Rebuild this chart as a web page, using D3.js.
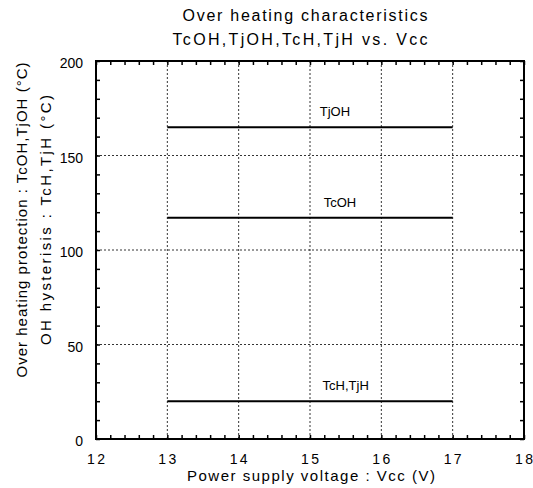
<!DOCTYPE html>
<html>
<head>
<meta charset="utf-8">
<script src="https://cdn.jsdelivr.net/npm/d3@7"></script>
<style>
  body { margin: 0; background: #fff; }
  text { font-family: "Liberation Sans", Arial, sans-serif; fill: #000; }
</style>
</head>
<body>
<div id="chart"></div>
<script>
// data
let xTicks = [12, 13, 14, 15, 16, 17, 18];
let yTicks = [0, 50, 100, 150, 200];
let seriesNames = ["TjOH", "TcOH", "TcH,TjH"];
let seriesX = [13, 17];
let seriesY = [165, 117, 20];
let labelX = [15.35, 15.42, 15.5];

let width = 533, height = 488;
let margin = { left: 96, right: 9, top: 61, bottom: 49 };

let svg = d3.select("#chart").append("svg")
     .attr("width", width)
     .attr("height", height);

let x = d3.scaleLinear().domain([12, 18]).range([margin.left, width - margin.right]);
let y = d3.scaleLinear().domain([0, 200]).range([height - margin.bottom, margin.top]);

// grid, dotted
let grid = svg.append("g").attr("stroke", "#000").attr("stroke-width", 0.8).attr("stroke-dasharray", "2,2");
xTicks.slice(1, -1).forEach(t => {
     grid.append("line").attr("x1", x(t)).attr("x2", x(t)).attr("y1", y(0)).attr("y2", y(200));
});
yTicks.slice(1, -1).forEach(t => {
     grid.append("line").attr("x1", x(12)).attr("x2", x(18)).attr("y1", y(t)).attr("y2", y(t));
});

// inward ticks on all four sides
let minorX = d3.range(12, 18.001, 0.2);
let minorY = d3.range(0, 200.001, 10);
svg.append("g").attr("transform", `translate(0,${y(0)})`)
     .call(d3.axisTop(x).tickValues(minorX).tickSize(4).tickFormat(""));
svg.append("g").attr("transform", `translate(0,${y(200)})`)
     .call(d3.axisBottom(x).tickValues(minorX).tickSize(4).tickFormat(""));
svg.append("g").attr("transform", `translate(${x(12)},0)`)
     .call(d3.axisRight(y).tickValues(minorY).tickSize(4).tickFormat(""));
svg.append("g").attr("transform", `translate(${x(18)},0)`)
     .call(d3.axisLeft(y).tickValues(minorY).tickSize(4).tickFormat(""));
svg.selectAll(".domain").remove();
svg.selectAll(".tick line").attr("stroke", "#000").attr("stroke-width", 1.5);

// frame
svg.append("rect")
     .attr("x", x(12)).attr("y", y(200))
     .attr("width", x(18) - x(12)).attr("height", y(0) - y(200))
     .attr("fill", "none").attr("stroke", "#000").attr("stroke-width", 2);

// tick labels
svg.append("g").selectAll("text").data(xTicks).enter().append("text")
     .attr("x", d => x(d)).attr("y", y(0) + 25)
     .attr("text-anchor", "middle").attr("font-size", 14)
     .attr("textLength", 18).attr("lengthAdjust", "spacing")
     .text(d => d);
svg.append("g").selectAll("text").data(yTicks).enter().append("text")
     .attr("x", x(12) - 13).attr("y", d => y(d) + 7)
     .attr("text-anchor", "end").attr("font-size", 14)
     .text(d => d);

// series lines + labels
seriesNames.forEach((name, i) => {
     svg.append("line")
          .attr("x1", x(seriesX[0])).attr("x2", x(seriesX[1]))
          .attr("y1", y(seriesY[i])).attr("y2", y(seriesY[i]))
          .attr("stroke", "#000").attr("stroke-width", 2);
     svg.append("text")
          .attr("x", x(labelX[i])).attr("y", y(seriesY[i]) - 11)
          .attr("text-anchor", "middle").attr("font-size", 13)
          .text(name);
});

// titles, stretched to the widths seen in the reference
function title(tx, ty, str, size, len, rot) {
     let t = svg.append("text")
          .attr("text-anchor", "middle").attr("font-size", size)
          .attr("textLength", len).attr("lengthAdjust", "spacing")
          .text(str);
     if (rot) t.attr("transform", `translate(${tx},${ty}) rotate(-90)`);
     else t.attr("x", tx).attr("y", ty);
}
title(305, 21, "Over heating characteristics", 16, 245);
title(300, 45, "TcOH,TjOH,TcH,TjH vs. Vcc", 16, 255);
title(311, 481, "Power supply voltage : Vcc (V)", 15, 248);
title(27, 220, "Over heating protection : TcOH,TjOH (°C)", 15, 315, true);
title(51, 220, "OH hysterisis : TcH,TjH (°C)", 15, 250, true);
</script>
</body>
</html>
